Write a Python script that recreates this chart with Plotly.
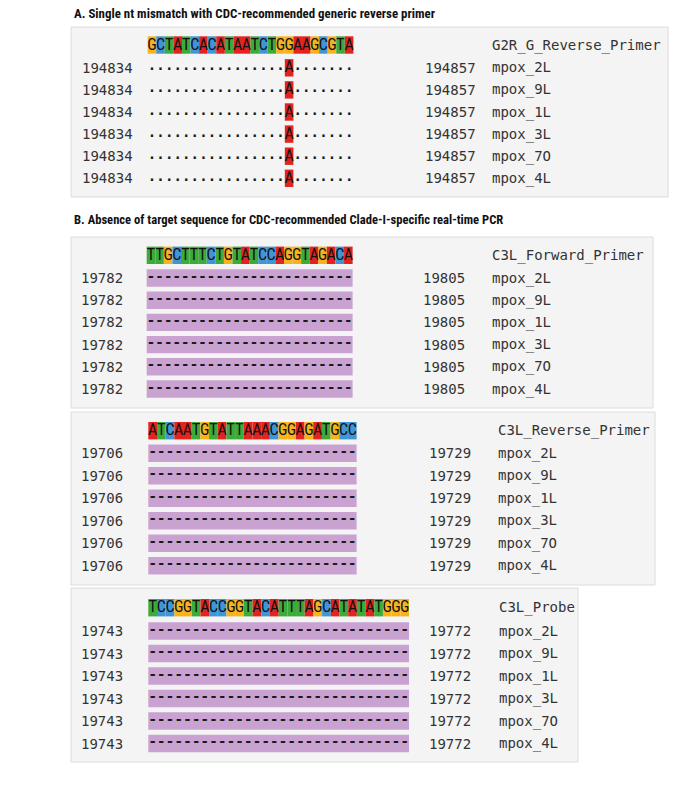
import plotly.graph_objects as go

# ---------------- data ----------------
samples = ["mpox_2L", "mpox_9L", "mpox_1L", "mpox_3L", "mpox_7O", "mpox_4L"]

title_a = "A. Single nt mismatch with CDC-recommended generic reverse primer"
title_b = "B. Absence of target sequence for CDC-recommended Clade-I-specific real-time PCR"

primer_names = ["G2R_G_Reverse_Primer", "C3L_Forward_Primer", "C3L_Reverse_Primer", "C3L_Probe"]
primer_seqs = [
    "GCTATCACATAATCTGGAAGCGTA",
    "TTGCTTTCTGTATCCAGGTAGACA",
    "ATCAATGTATTAAACGGAGATGCC",
    "TCCGGTACCGGTACATTTAGCATATATGGG",
]
start_pos = [194834, 19782, 19706, 19743]
end_pos = [194857, 19805, 19729, 19772]

# alignment of each sample against each primer ('.' identical, '-' gap, letter = mismatch)
aln_g2r = ["................A......."] * 6
aln_c3l_f = ["------------------------"] * 6
aln_c3l_r = ["------------------------"] * 6
aln_c3l_p = ["------------------------------"] * 6
alignments = [aln_g2r, aln_c3l_f, aln_c3l_r, aln_c3l_p]

# ---------------- styling / layout ----------------
base_colors = {"A": "#e3231f", "C": "#3f95d6", "G": "#f8b31c", "T": "#3dab3a"}
gap_color = "#c9a2d2"
box_fill = "#f4f4f4"
box_line = "#dcdcdc"
txt_color = "#333333"
mono = "DejaVu Sans Mono"
seq_font = "Liberation Sans Narrow, Roboto Condensed, Roboto, sans-serif"
title_font = "Liberation Sans Narrow, Roboto Condensed, Roboto, sans-serif"

# page offset of the plot div (default body margin) -> axes are in page pixels
OFF = 8

# per block: box (x0,x1,y0,y1), header y, first row y, row step, seq x0, cell width,
# left number x, right number x, name x
blocks = [
    dict(box=(71, 668, 27, 197), hy=45.0, ry=67.8, dy=22.1, sx=147.7, cw=8.57, lx=79.5, rx=423, nx=490),
    dict(box=(71, 653, 237, 408), hy=255.3, ry=278.0, dy=22.2, sx=146.7, cw=8.58, lx=78.5, rx=421, nx=490),
    dict(box=(71, 655, 412, 585), hy=430.7, ry=453.3, dy=22.5, sx=148.3, cw=8.68, lx=78.5, rx=427, nx=496),
    dict(box=(71, 578, 588, 762), hy=607.7, ry=631.0, dy=22.5, sx=148.3, cw=8.69, lx=78.5, rx=426.7, nx=496.5),
]
cell_h = 17.4

fig = go.Figure()
shapes = []
annotations = []

for b, name, seq, s0, s1, aln in zip(blocks, primer_names, primer_seqs, start_pos, end_pos, alignments):
    x0, x1, y0, y1 = b["box"]
    shapes.append(dict(type="rect", xref="x", yref="y", x0=x0, x1=x1, y0=y0, y1=y1,
                       fillcolor=box_fill, line=dict(color=box_line, width=1), layer="below"))
    cw = b["cw"]
    # primer header cells
    hx, ht = [], []
    for i, ch in enumerate(seq):
        cx = b["sx"] + i * cw
        shapes.append(dict(type="rect", xref="x", yref="y", x0=cx, x1=cx + cw,
                           y0=b["hy"] - cell_h / 2, y1=b["hy"] + cell_h / 2,
                           fillcolor=base_colors[ch], line=dict(width=0), layer="below"))
        hx.append(cx + cw / 2)
        ht.append(ch)
    fig.add_trace(go.Scatter(x=hx, y=[b["hy"] + 0.5] * len(hx), text=ht, mode="text",
                             textfont=dict(family=seq_font, size=16, color="#111111"),
                             hoverinfo="skip", showlegend=False))
    annotations.append(dict(x=b["nx"], y=b["hy"], text=name, xanchor="left", yanchor="middle",
                            showarrow=False, font=dict(family=mono, size=14, color=txt_color)))
    # sample rows
    for r, (smp, row) in enumerate(zip(samples, aln)):
        ry = b["ry"] + r * b["dy"]
        annotations.append(dict(x=b["lx"], y=ry, text=str(s0), xanchor="left", yanchor="middle",
                                showarrow=False, font=dict(family=mono, size=14, color=txt_color)))
        annotations.append(dict(x=b["rx"], y=ry, text=str(s1), xanchor="left", yanchor="middle",
                                showarrow=False, font=dict(family=mono, size=14, color=txt_color)))
        annotations.append(dict(x=b["nx"], y=ry, text=smp, xanchor="left", yanchor="middle",
                                showarrow=False, font=dict(family=mono, size=14, color=txt_color)))
        if "-" in row:
            shapes.append(dict(type="rect", xref="x", yref="y", x0=b["sx"], x1=b["sx"] + cw * len(row),
                               y0=ry - cell_h / 2, y1=ry + cell_h / 2,
                               fillcolor=gap_color, line=dict(width=0), layer="below"))
        px, pt, lx_, lt = [], [], [], []
        for i, ch in enumerate(row):
            cx = b["sx"] + i * cw
            if ch in base_colors:
                shapes.append(dict(type="rect", xref="x", yref="y", x0=cx, x1=cx + cw,
                                   y0=ry - cell_h / 2, y1=ry + cell_h / 2,
                                   fillcolor=base_colors[ch], line=dict(width=0), layer="below"))
                lx_.append(cx + cw / 2)
                lt.append(ch)
            else:
                px.append(cx + cw / 2)
                pt.append(ch)
        if px:
            fig.add_trace(go.Scatter(x=px, y=[ry - 1] * len(px), text=pt, mode="text",
                                     textfont=dict(family=mono, size=14, color="#1a1a1a", weight=700),
                                     hoverinfo="skip", showlegend=False))
        if lx_:
            fig.add_trace(go.Scatter(x=lx_, y=[ry + 0.5] * len(lx_), text=lt, mode="text",
                                     textfont=dict(family=seq_font, size=16, color="#111111"),
                                     hoverinfo="skip", showlegend=False))

annotations.append(dict(x=72, y=13, text="<b>" + title_a + "</b>", xanchor="left", yanchor="middle",
                        showarrow=False, font=dict(family=title_font, size=12.9, color="#111111")))
annotations.append(dict(x=72, y=219, text="<b>" + title_b + "</b>", xanchor="left", yanchor="middle",
                        showarrow=False, font=dict(family=title_font, size=12.6, color="#111111")))

fig.update_layout(
    width=700 - OFF, height=792 - OFF,
    margin=dict(l=0, r=0, t=0, b=0),
    paper_bgcolor="white", plot_bgcolor="white",
    xaxis=dict(range=[OFF, 700], visible=False, fixedrange=True),
    yaxis=dict(range=[792, OFF], visible=False, fixedrange=True),
    shapes=shapes, annotations=annotations, showlegend=False,
)
fig.write_html("out.html")
